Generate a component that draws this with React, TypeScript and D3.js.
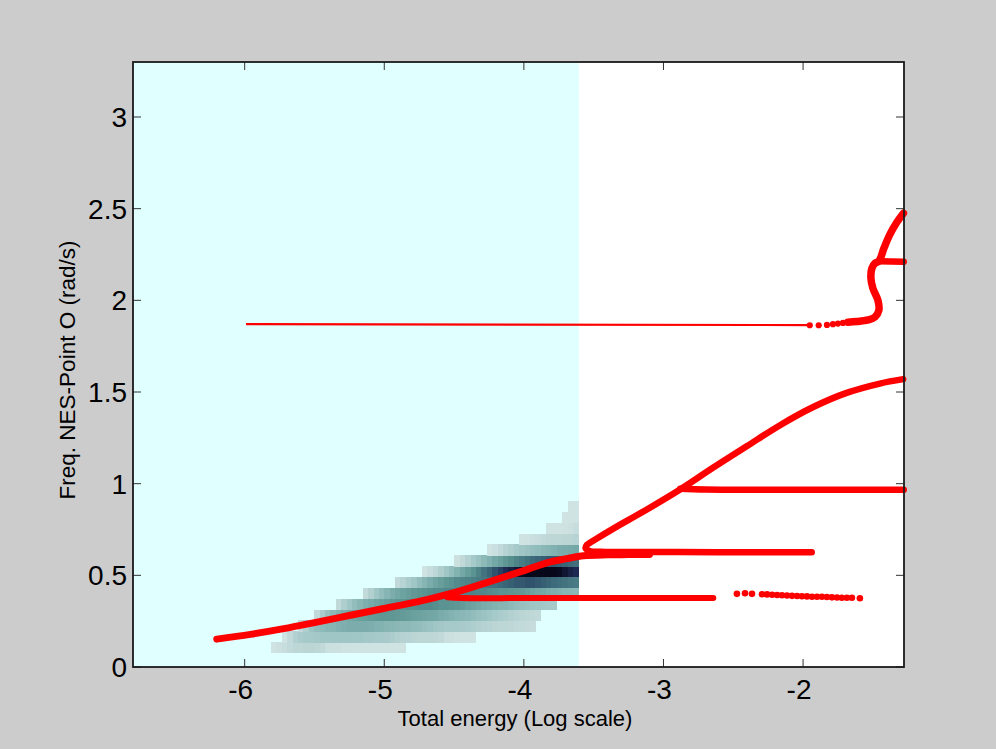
import React from 'react';
import * as d3 from 'd3';

// ---------- axes ----------
const xLimits = [-6.8, -1.277];
const yLimits = [0, 3.3];
const xTickValues = [-6, -5, -4, -3, -2];
const xTickLabels = ['-6', '-5', '-4', '-3', '-2'];
const yTickValues = [0, 0.5, 1, 1.5, 2, 2.5, 3];
const yTickLabels = ['0', '0.5', '1', '1.5', '2', '2.5', '3'];
const xAxisTitle = 'Total energy (Log scale)';
const yAxisTitle = 'Freq. NES-Point O (rad/s)';
const shadedUpTo = -3.606;

// ---------- 2D histogram (density) ----------
const heatColStart = -5.811;
const heatColWidth = 0.03863;
const heatRowBase = 0.0764;
const heatRowHeight = 0.05923;
const heatRowFirstCol = [0, 2, 5, 8, 12, 17, 23, 28, 34, 40, 46, 51, 54, 55];
// density level (1 = lightest, 9 = darkest) per cell, bottom row first
const heatRowLevels: number[][] = [
  [1, 1.2, 1.4, 1.8, 2, 2, 2.1, 2.1, 2, 1.8, 1.3, 1.2, 1.2, 1.1, 1.1, 1, 1, 1, 1, 1, 1, 1, 1, 1, 1],
  [1, 1.8, 2.5, 2.8, 3, 3, 3.1, 3.2, 3.2, 3.3, 3.3, 3.3, 3.3, 3.2, 3.2, 3.1, 3.1, 3, 3, 2.9, 2.7, 2.5, 2.3, 2.2, 2.1, 2, 2, 2, 1.9, 1.8, 1.3, 1.2, 1.1, 1, 1, 1],
  [1.8, 2.6, 3.4, 3.8, 4, 4.2, 4.3, 4.5, 4.6, 4.7, 4.7, 4.7, 4.7, 4.6, 4.5, 4.4, 4.3, 4.2, 4.1, 4, 4, 3.9, 3.8, 3.6, 3.4, 3.2, 3.1, 3, 3, 3, 2.9, 2.8, 2.6, 2.5, 2.3, 2.2, 2.1, 2, 2, 1.9, 1.8, 1.7, 1.6, 1.5],
  [1.8, 2.8, 3.6, 4.1, 4.5, 4.8, 5, 5.2, 5.4, 5.5, 5.6, 5.7, 5.8, 5.8, 5.8, 5.7, 5.6, 5.5, 5.4, 5.3, 5.2, 5.1, 5, 4.8, 4.6, 4.4, 4.2, 4.1, 4, 3.8, 3.6, 3.4, 3.2, 3, 2.8, 2.6, 2.4, 2.2, 2.1, 2, 1.9, 1.8],
  [1.8, 2.6, 3.2, 3.8, 4.2, 4.6, 4.9, 5.1, 5.3, 5.5, 5.7, 5.9, 6, 6.1, 6.1, 6.2, 6.2, 6.2, 6.1, 6, 6, 5.9, 5.8, 5.6, 5.4, 5.2, 5, 4.8, 4.6, 4.4, 4.3, 4.2, 4, 3.8, 3.6, 3.4, 3.3, 3.2, 3.1, 3, 3],
  [1.8, 2.5, 3.2, 3.8, 4.3, 4.7, 5, 5.3, 5.5, 5.7, 5.9, 6, 6.1, 6.2, 6.2, 6.3, 6.3, 6.4, 6.4, 6.4, 6.4, 6.3, 6.3, 6.2, 6.1, 6, 6, 5.9, 5.8, 5.7, 5.5, 5.3, 5.1, 5, 4.8, 4.6, 4.5, 4.3, 4.2, 4.1],
  [1.8, 2.2, 2.8, 3.2, 3.8, 4.3, 4.8, 5.2, 5.5, 5.8, 6, 6.2, 6.3, 6.4, 6.5, 6.6, 6.7, 6.8, 6.9, 7, 7.1, 7.2, 7.3, 7.3, 7.4, 7.4, 7.3, 7.2, 7.1, 7, 6.9, 6.8, 6.7, 6.6],
  [1, 1.5, 2, 2.6, 3.2, 3.8, 4.4, 5, 5.5, 6, 6.4, 6.8, 7.1, 7.4, 7.7, 8, 8.3, 8.6, 8.9, 9, 9, 9, 9, 9, 9, 8.9, 8.6, 8.3, 8.1],
  [1.2, 1.8, 2.4, 3, 3.5, 4, 4.5, 5, 5.4, 5.8, 6.1, 6.4, 6.6, 6.8, 7, 7.1, 7.2, 7.3, 7.3, 7.2, 7.1, 7, 6.9],
  [1, 1.3, 1.8, 2.2, 2.6, 3, 3.3, 3.5, 3.7, 3.9, 4.1, 4.3, 4.5, 4.7, 4.8, 4.9, 5],
  [1, 1.1, 1.3, 1.5, 1.7, 1.9, 2, 2, 2.1, 2.1, 2.2],
  [1, 1, 1, 1.1, 1.2, 1.5],
  [1, 1, 1],
  [1, 1],
];
const heatLevels = [1, 2, 3, 4, 5, 6, 7, 8, 9];
const heatLevelColors = ['#d0e3e3', '#bdd6d6', '#a6c9c9', '#8dbab9', '#74a8a6', '#5a9391', '#3d6b7b', '#1f2d56', '#07081a'];

// ---------- red curves ----------
const mainBranchX = [-6.2, -5.959, -5.72, -5.482, -5.243, -5.004, -4.766, -4.528, -4.289, -4.05, -3.811, -3.692, -3.573, -3.4, -3.25, -3.1];
const mainBranchY = [0.152, 0.178, 0.209, 0.245, 0.282, 0.319, 0.355, 0.4, 0.455, 0.513, 0.573, 0.591, 0.607, 0.612, 0.613, 0.614];

const foldBranchX = [-1.938, -2.4, -2.9, -3.3, -3.45, -3.53, -3.558, -3.548, -3.52, -3.48, -3.359, -3.119, -2.881, -2.643, -2.404, -2.165, -1.927, -1.688, -1.45, -1.283];
const foldBranchY = [0.626, 0.626, 0.627, 0.627, 0.628, 0.633, 0.648, 0.666, 0.681, 0.7, 0.755, 0.859, 0.968, 1.088, 1.204, 1.319, 1.418, 1.495, 1.546, 1.57];

const branch097X = [-2.88, -2.7, -2.2, -1.279];
const branch097Y = [0.972, 0.968, 0.967, 0.967];

const branch038X = [-4.55, -4.45, -3.8, -3.2, -2.643];
const branch038Y = [0.381, 0.377, 0.376, 0.376, 0.376];

const dots039X = [-2.474, -2.416, -2.366, -2.294, -2.258, -2.222, -2.186, -2.151, -2.115, -2.079, -2.043, -2.008, -1.972, -1.936, -1.9, -1.865, -1.829, -1.793, -1.757, -1.722, -1.686, -1.65, -1.593];
const dots039Y = [0.399, 0.402, 0.399, 0.397, 0.396, 0.394, 0.393, 0.391, 0.39, 0.388, 0.387, 0.386, 0.385, 0.383, 0.383, 0.383, 0.382, 0.38, 0.379, 0.378, 0.378, 0.378, 0.375];

const thinLineX = [-5.99, -1.952];
const thinLineY = [1.870, 1.865];

const dots187X = [-1.952, -1.888, -1.829, -1.786, -1.75, -1.714, -1.679];
const dots187Y = [1.864, 1.864, 1.866, 1.87, 1.873, 1.877, 1.881];

const sBranchX = [-1.679, -1.616, -1.535, -1.485, -1.457, -1.464, -1.5, -1.514, -1.507, -1.485, -1.457, -1.421, -1.378, -1.328, -1.281];
const sBranchY = [1.881, 1.884, 1.893, 1.909, 1.946, 2.001, 2.066, 2.121, 2.175, 2.202, 2.213, 2.284, 2.36, 2.426, 2.475];

const branch221X = [-1.46, -1.279];
const branch221Y = [2.213, 2.211];

// ---------- layout ----------
const W = 996;
const H = 749;
const plot = { left: 133, right: 904, top: 62, bottom: 667 };
const FONT = "'Liberation Sans', Arial, Helvetica, sans-serif";

const zip = (xs: number[], ys: number[]) => xs.map((v, i) => [v, ys[i]] as [number, number]);

export default function App() {
  const x = d3.scaleLinear().domain(xLimits).range([plot.left, plot.right]);
  const y = d3.scaleLinear().domain(yLimits).range([plot.bottom, plot.top]);
  const color = d3.scaleLinear<string>().domain(heatLevels).range(heatLevelColors);

  const line = d3
    .line<[number, number]>()
    .x((d) => x(d[0]))
    .y((d) => y(d[1]))
    .curve(d3.curveCatmullRom.alpha(0.5));

  const cells: { x0: number; x1: number; y0: number; y1: number; c: string; k: string }[] = [];
  heatRowLevels.forEach((levels, r) => {
    const yb = heatRowBase + r * heatRowHeight;
    levels.forEach((lvl, i) => {
      const col = heatRowFirstCol[r] + i;
      const xa = heatColStart + col * heatColWidth;
      cells.push({
        x0: x(xa),
        x1: x(xa + heatColWidth),
        y0: y(yb + heatRowHeight),
        y1: y(yb),
        c: color(lvl),
        k: `${r}-${col}`,
      });
    });
  });

  const thick = { fill: 'none', stroke: '#ff0000', strokeWidth: 7, strokeLinecap: 'round' as const, strokeLinejoin: 'round' as const };

  return (
    <div style={{ position: 'absolute', left: 0, top: 0, width: W, height: H, background: '#cccccc' }}>
      <svg width={W} height={H} style={{ display: 'block' }}>
        <rect x={0} y={0} width={W} height={H} fill="#cccccc" />
        {/* plot background */}
        <rect x={plot.left} y={plot.top} width={plot.right - plot.left} height={plot.bottom - plot.top} fill="#ffffff" />
        <rect x={plot.left} y={plot.top} width={x(shadedUpTo) - plot.left} height={plot.bottom - plot.top} fill="#e0ffff" />
        {/* heatmap */}
        <g shapeRendering="crispEdges">
          {cells.map((c) => (
            <rect key={c.k} x={c.x0} y={c.y0} width={c.x1 - c.x0 + 0.4} height={c.y1 - c.y0 + 0.4} fill={c.c} />
          ))}
        </g>
        {/* red curves */}
        <path d={line(zip(thinLineX, thinLineY)) || ''} fill="none" stroke="#ff0000" strokeWidth={2.2} />
        <path d={line(zip(branch038X, branch038Y)) || ''} {...thick} strokeWidth={6} />
        <path d={line(zip(mainBranchX, mainBranchY)) || ''} {...thick} />
        <path d={line(zip(foldBranchX, foldBranchY)) || ''} {...thick} strokeWidth={6.5} />
        <path d={line(zip(branch097X, branch097Y)) || ''} {...thick} strokeWidth={6.5} />
        <path d={line(zip(sBranchX, sBranchY)) || ''} {...thick} strokeWidth={7.5} />
        <path d={line(zip(branch221X, branch221Y)) || ''} {...thick} strokeWidth={6.5} />
        {zip(dots039X, dots039Y).map((d, i) => (
          <circle key={'a' + i} cx={x(d[0])} cy={y(d[1])} r={3.3} fill="#ff0000" />
        ))}
        {zip(dots187X, dots187Y).map((d, i) => (
          <circle key={'b' + i} cx={x(d[0])} cy={y(d[1])} r={3.1} fill="#ff0000" />
        ))}
        {/* ticks */}
        <g stroke="#333333" strokeWidth={1}>
          {xTickValues.map((v) => (
            <g key={'xt' + v}>
              <line x1={x(v)} x2={x(v)} y1={plot.bottom} y2={plot.bottom - 8} />
              <line x1={x(v)} x2={x(v)} y1={plot.top} y2={plot.top + 8} />
            </g>
          ))}
          {yTickValues.map((v) => (
            <g key={'yt' + v}>
              <line x1={plot.left} x2={plot.left + 8} y1={y(v)} y2={y(v)} />
              <line x1={plot.right} x2={plot.right - 8} y1={y(v)} y2={y(v)} />
            </g>
          ))}
        </g>
        {/* box */}
        <rect x={plot.left} y={plot.top} width={plot.right - plot.left} height={plot.bottom - plot.top} fill="none" stroke="#1a1a1a" strokeWidth={1.8} />
        {/* tick labels */}
        <g fontFamily={FONT} fontSize={28} fill="#000">
          {xTickValues.map((v, i) => (
            <text key={'xl' + v} x={x(v) - 4} y={699} textAnchor="middle">
              {xTickLabels[i]}
            </text>
          ))}
          {yTickValues.map((v, i) => (
            <text key={'yl' + v} x={127} y={y(v) + 10} textAnchor="end">
              {yTickLabels[i]}
            </text>
          ))}
        </g>
        <text x={515} y={726} textAnchor="middle" fontFamily={FONT} fontSize={22} fill="#000">
          {xAxisTitle}
        </text>
        <text transform="translate(75,370) rotate(-90)" textAnchor="middle" fontFamily={FONT} fontSize={22.5} fill="#000">
          {yAxisTitle}
        </text>
      </svg>
    </div>
  );
}
